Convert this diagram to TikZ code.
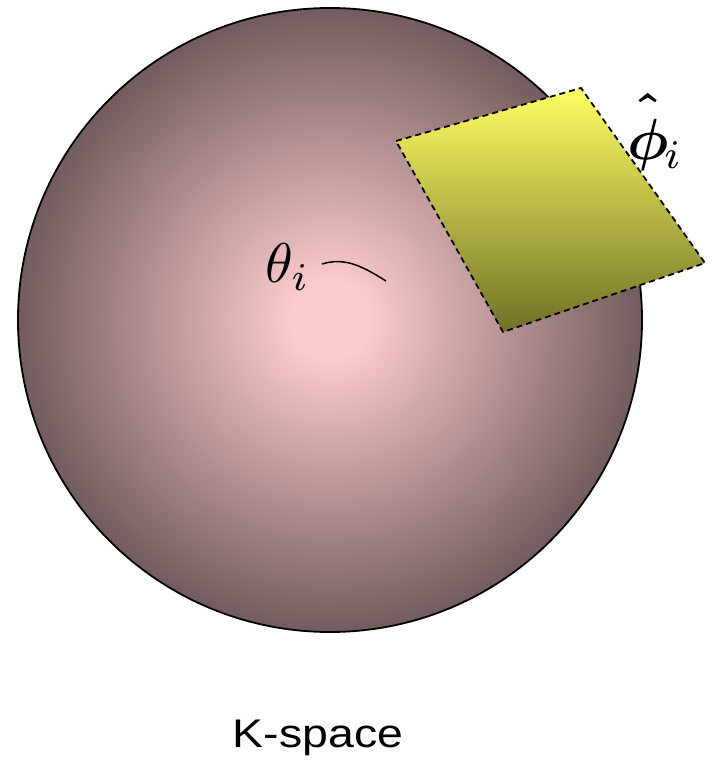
\documentclass[tikz,border=0pt]{standalone}
\usepackage{amsmath}
\usepackage{fontspec}
\newfontfamily\labelfont{Liberation Sans}
\definecolor{spherein}{RGB}{252,203,205}
\definecolor{sphereout}{RGB}{114,92,93}
\definecolor{planetop}{RGB}{255,255,100}
\definecolor{planebot}{RGB}{112,112,38}
\pgfdeclareradialshading{ksphere}{\pgfpoint{0bp}{0bp}}{%
  color(0bp)=(spherein); color(3bp)=(spherein); color(25bp)=(sphereout);
  color(50bp)=(sphereout)}
\tikzset{
  sphere/.style={draw=black, line width=1.8pt, shading=ksphere},
  plane/.style={draw=black, line width=1.8pt, dash pattern=on 6pt off 4pt,
    top color=planetop, bottom color=planebot},
  mathlabel/.style={inner sep=0pt, anchor=base west},
  caption/.style={inner sep=0pt, font=\labelfont\fontsize{40}{48}\selectfont},
}
\newcommand{\boldphihat}{\mbox{\boldmath$\hat{\vphantom{\rule{0pt}{0.9em}}\smash{\phi}}$}}
\begin{document}
\begin{tikzpicture}[x=1pt,y=-1pt]
\useasboundingbox (0,0) rectangle (717,762);
\path[sphere] (330,320) circle [radius=312];
\coordinate (p1) at (396,141);
\coordinate (p2) at (581,88);
\coordinate (p3) at (705,263);
\coordinate (p4) at (503,332);
\path[plane] (p1) -- (p2) -- (p3) -- (p4) -- cycle;
\node[mathlabel] (theta) at (265,282) {\scalebox{5.6}{$\theta_i$}};
\coordinate (c1) at (322,264);
\coordinate (c2) at (386,281);
\draw[line width=1.5pt] (c1) .. controls (345,257) and (362,266) .. (c2);
\node[mathlabel] (phi) at (627,160) {\scalebox{5.8}{$\boldphihat\kern-0.08em_i$}};
\node[caption] (ks) at (318,738) {\scalebox{1.16}[1]{K-space}};
\end{tikzpicture}
\end{document}
